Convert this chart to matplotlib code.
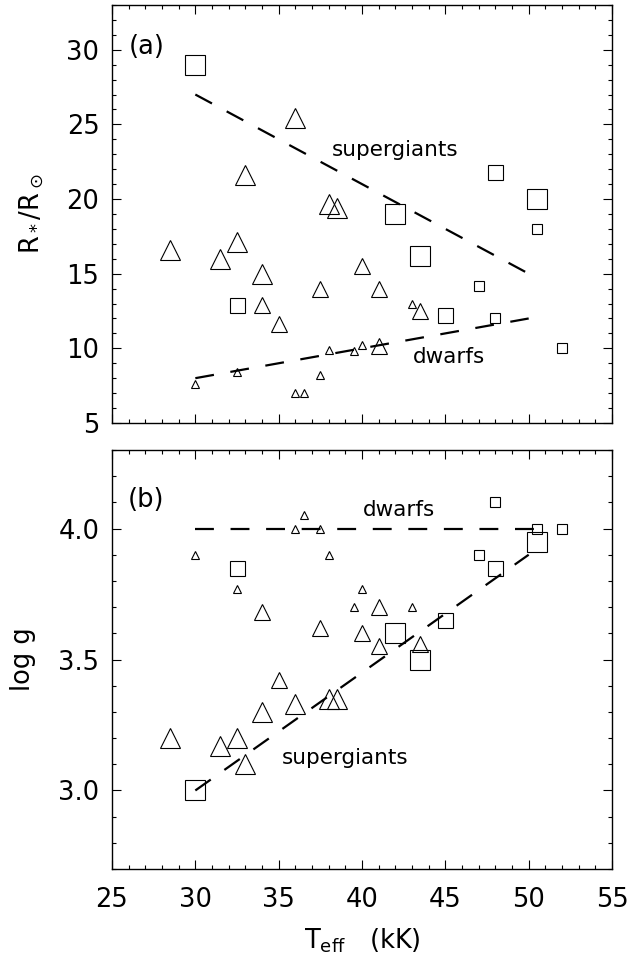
import matplotlib
matplotlib.use("Agg")
import matplotlib.pyplot as plt
import numpy as np

plt.rcParams['font.family'] = ['DejaVu Sans']
plt.rcParams['mathtext.fontset'] = 'dejavusans'

# ---- data: squares (one sample) ----
sq_teff = [30.0, 42.0, 48.0, 50.5, 50.5, 43.5, 47.0, 32.5, 45.0, 48.0, 52.0]
sq_rad  = [29.0, 19.0, 21.8, 20.0, 18.0, 16.2, 14.2, 12.9, 12.2, 12.0, 10.0]
sq_logg = [3.00, 3.60, 3.85, 3.95, 4.00, 3.50, 3.90, 3.85, 3.65, 4.10, 4.00]
sq_cls  = ['L', 'L', 'M', 'L', 'S', 'L', 'S', 'M', 'M', 'S', 'S']

# ---- data: triangles (other sample) ----
tr_teff = [36.0, 33.0, 38.0, 38.5, 28.5, 31.5, 32.5, 34.0,
           37.5, 40.0, 41.0, 34.0, 35.0, 43.5, 41.0,
           43.0, 38.0, 39.5, 40.0, 30.0, 32.5, 37.5, 36.0, 36.5]
tr_rad  = [25.4, 21.6, 19.7, 19.4, 16.6, 16.0, 17.1, 15.0,
           14.0, 15.5, 14.0, 12.9, 11.6, 12.5, 10.15,
           13.0, 9.9, 9.8, 10.2, 7.6, 8.4, 8.2, 7.0, 7.0]
tr_logg = [3.33, 3.10, 3.35, 3.35, 3.20, 3.17, 3.20, 3.30,
           3.62, 3.60, 3.70, 3.68, 3.42, 3.56, 3.55,
           3.70, 3.90, 3.70, 3.77, 3.90, 3.77, 4.00, 4.00, 4.05]
tr_cls  = ['L'] * 8 + ['M'] * 7 + ['S'] * 9

# ---- fitted relations ----
fit_teff = [30.0, 50.0]
rad_super = [27.0, 15.0]
rad_dwarf = [8.0, 12.0]
logg_super = [3.0, 3.9]
logg_dwarf_teff = [30.0, 51.0]
logg_dwarf = [4.0, 4.0]

xticks = [25, 30, 35, 40, 45, 50, 55]
rticks = [5, 10, 15, 20, 25, 30]
gticks = [3.0, 3.5, 4.0]

sq_size = {'L': 14.4, 'M': 10.8, 'S': 6.5}
tr_size = {'L': 14.4, 'M': 11.2, 'S': 5.8}

fig = plt.figure(figsize=(6.32, 9.71), dpi=100)
ax1 = fig.add_axes([0.1772, 0.5644, 0.7912, 0.4305])
ax2 = fig.add_axes([0.1772, 0.1050, 0.7912, 0.4316])

FS = 18.5
dash = (0, (8.5, 7.5))

def style(ax):
    for s in ax.spines.values():
        s.set_linewidth(1.0)
    ax.tick_params(which='both', direction='in', top=True, right=True,
                   width=0.8, labelsize=FS, pad=9)
    ax.tick_params(which='major', length=6.5)
    ax.tick_params(which='minor', length=3.2)
    ax.set_xlim(25, 55)
    ax.set_xticks(xticks)
    ax.set_xticks(np.arange(25, 55.5, 1), minor=True)

def draw_points(ax, yvals_sq, yvals_tr):
    for t, y, c in zip(sq_teff, yvals_sq, sq_cls):
        ax.plot(t, y, marker='s', ms=sq_size[c], mfc='none', mec='black',
                mew=0.8, ls='none')
    for t, y, c in zip(tr_teff, yvals_tr, tr_cls):
        ax.plot(t, y, marker='^', ms=tr_size[c], mfc='none', mec='black',
                mew=0.8, ls='none')

# ---- panel (a) ----
style(ax1)
ax1.set_ylim(5, 33)
ax1.set_yticks(rticks)
ax1.set_yticks(np.arange(5, 33.5, 1), minor=True)
ax1.tick_params(axis='x', labelbottom=False)
draw_points(ax1, sq_rad, tr_rad)
ax1.plot(fit_teff, rad_super, color='black', lw=1.6, ls=dash)
ax1.plot(fit_teff, rad_dwarf, color='black', lw=1.6, ls=dash)
ax1.text(0.069, 0.90, '(a)', transform=ax1.transAxes, fontsize=FS,
         ha='center', va='center')
ax1.text(42.0, 23.3, 'supergiants', fontsize=15.5, ha='center', va='center')
ax1.text(45.2, 9.4, 'dwarfs', fontsize=15.5, ha='center', va='center')
ax1.set_ylabel(r'$\mathregular{R_*/R_\odot}$', fontsize=FS, labelpad=15)

# ---- panel (b) ----
style(ax2)
ax2.set_ylim(2.7, 4.3)
ax2.set_yticks(gticks)
ax2.set_yticklabels(['3.0', '3.5', '4.0'])
ax2.set_yticks(np.arange(2.7, 4.31, 0.1), minor=True)
ax2.tick_params(axis='x', pad=13)
draw_points(ax2, sq_logg, tr_logg)
ax2.plot(fit_teff, logg_super, color='black', lw=1.6, ls=dash)
ax2.plot(logg_dwarf_teff, logg_dwarf, color='black', lw=1.6, ls=dash)
ax2.text(0.069, 0.88, '(b)', transform=ax2.transAxes, fontsize=FS,
         ha='center', va='center')
ax2.text(42.2, 4.07, 'dwarfs', fontsize=15.5, ha='center', va='center')
ax2.text(39.0, 3.125, 'supergiants', fontsize=15.5, ha='center', va='center')
ax2.set_ylabel('log g', fontsize=FS, labelpad=16)
ax2.set_xlabel(r'$\mathregular{T_{eff}}$   (kK)', fontsize=FS, labelpad=10)

fig.savefig('out.png', dpi=100)
